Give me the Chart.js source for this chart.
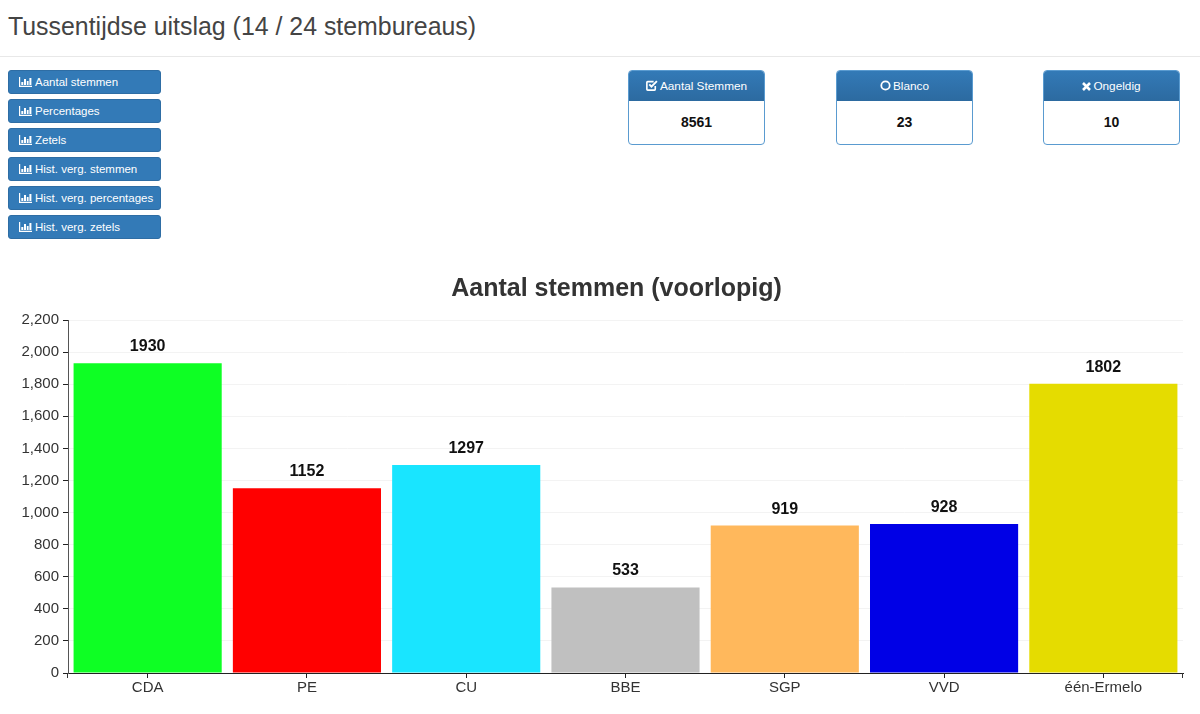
<!DOCTYPE html>
<html>
<head>
<meta charset="utf-8">
<title>Tussentijdse uitslag</title>
<script src="https://cdn.jsdelivr.net/npm/chart.js@4"></script>
<style>
    html, body { margin: 0; padding: 0; background: #fff; font-family: "Liberation Sans", Arial, sans-serif; }
    body { position: relative; width: 1200px; height: 714px; overflow: hidden; }
    h1 { position: absolute; left: 8px; top: 12px; margin: 0; font-size: 24.9px; line-height: 28px; font-weight: normal; color: #444; }
    .rule { position: absolute; left: 0; top: 56px; width: 1200px; height: 1px; background: #e8e8e8; }
    .btn { position: absolute; left: 8px; width: 153px; height: 24px; box-sizing: border-box; padding-left: 10px; background: #337ab7; border: 1px solid #2e6da4; border-radius: 3px; color: #fff; font-size: 11.5px; line-height: 22.5px; white-space: nowrap; }
    .btn svg { vertical-align: -1px; margin-right: 3px; }
    .panel { position: absolute; top: 70px; width: 137px; height: 75px; box-sizing: border-box; border: 1px solid #5a9bd0; border-radius: 4px; text-align: center; overflow: hidden; }
    .panel .head { height: 30px; line-height: 31px; color: #fff; font-size: 11.8px; background: linear-gradient(#337ab7, #2c6aa0); white-space: nowrap; }
    .panel .head svg { vertical-align: -1px; margin-right: 2px; }
    .panel .val { line-height: 42px; font-size: 14px; font-weight: bold; color: #111; }
    #chartBox { position: absolute; left: 0; top: 266px; width: 1200px; height: 448px; }
</style>
</head>
<body>
<h1>Tussentijdse uitslag (14 / 24 stembureaus)</h1>
<div class="rule"></div>
<div id="buttons"></div>
<div id="panels"></div>
<div id="chartBox"><canvas id="voteChart"></canvas></div>

<script>
const categories = ['CDA', 'PE', 'CU', 'BBE', 'SGP', 'VVD', 'één-Ermelo'];
const votes = [1930, 1152, 1297, 533, 919, 928, 1802];
const barColors = ['#0eff24', '#ff0000', '#19e5ff', '#c0c0c0', '#ffb85c', '#0000e6', '#e5dc00'];
const buttonLabels = ['Aantal stemmen', 'Percentages', 'Zetels', 'Hist. verg. stemmen', 'Hist. verg. percentages', 'Hist. verg. zetels'];
const panelLabels = ['Aantal Stemmen', 'Blanco', 'Ongeldig'];
const panelValues = [8561, 23, 10];
const panelLefts = [628, 836, 1043];

const barIcon = '<svg width="13" height="10" viewBox="0 0 13 10"><path fill="#fff" d="M0 0h1.200v8.800H13V10H0zM2.300 5h2v3h-2zM5 2h2v6H5zM7.800 4h1.800v4H7.800zM10.400 1h2v7h-2z"/></svg>';
const panelIcons = [
    '<svg width="12" height="11" viewBox="0 0 11 10"><path fill="none" stroke="#fff" stroke-width="1.500" d="M8.500 5.500V8.500a.7.7 0 0 1-.7.7H1.500a.7.7 0 0 1-.7-.7V2.200a.7.7 0 0 1 .7-.7H7"/><path fill="none" stroke="#fff" stroke-width="1.800" d="M3 4l2 2 5-5"/></svg>',
    '<svg width="11" height="11" viewBox="0 0 11 11"><circle cx="5.500" cy="5.500" r="4.200" fill="none" stroke="#fff" stroke-width="1.800"/></svg>',
    '<svg width="9" height="9" viewBox="0 0 9 9"><path stroke="#fff" stroke-width="2.600" d="M1 1l7 7M8 1l-7 7"/></svg>'
];

document.getElementById('buttons').innerHTML = buttonLabels.map((label, i) =>
    `<div class="btn" style="top:${70 + i * 29}px">${barIcon}${label}</div>`).join('');

document.getElementById('panels').innerHTML = panelLabels.map((label, i) => `
    <div class="panel" style="left:${panelLefts[i]}px">
        <div class="head">${panelIcons[i]}${label}</div>
        <div class="val">${panelValues[i]}</div>
    </div>`).join('');

// Value above each bar, plus the end ticks of the x axis
const barValues = {
    id: 'barValues',
    afterLayout(chart) {
        // y labels get clipped to the scale box, so open it up to the canvas edge
        chart.scales.y.left = 0;
    },
    afterDatasetsDraw(chart) {
        const ctx = chart.ctx;
        ctx.save();
        ctx.font = 'bold 16px "Liberation Sans", Arial, sans-serif';
        ctx.fillStyle = '#111';
        ctx.textAlign = 'center';
        ctx.textBaseline = 'alphabetic';
        chart.getDatasetMeta(0).data.forEach((bar, i) => {
            ctx.fillText(votes[i], bar.x, bar.y - 12);
        });
        const area = chart.chartArea;
        ctx.fillStyle = '#333';
        ctx.fillRect(area.left - 1, area.bottom, 1, 5);
        ctx.fillRect(area.right - 1, area.bottom, 1, 5);
        ctx.restore();
    }
};

new Chart(document.getElementById('voteChart'), {
    type: 'bar',
    data: {
        labels: categories,
        datasets: [{
            data: votes,
            backgroundColor: barColors,
            categoryPercentage: 0.93,
            barPercentage: 1
        }]
    },
    plugins: [barValues],
    options: {
        responsive: true,
        maintainAspectRatio: false,
        animation: false,
        // left padding and the narrow y scale keep the axis at x=68 but push the title's centre right
        layout: { padding: { top: 0, right: 17, bottom: 16, left: 50 } },
        plugins: {
            legend: { display: false },
            tooltip: { enabled: false },
            title: {
                display: true,
                text: 'Aantal stemmen (voorlopig)',
                color: '#333',
                font: { family: '"Liberation Sans", Arial, sans-serif', size: 25, weight: 'bold' },
                padding: { top: 8, bottom: 16 }
            }
        },
        scales: {
            x: {
                border: { color: '#222', width: 1 },
                grid: { offset: false, drawOnChartArea: false, tickColor: '#222', tickLength: 5 },
                ticks: { color: '#333', padding: 1, font: { family: '"Liberation Sans", Arial, sans-serif', size: 15 } }
            },
            y: {
                min: 0,
                max: 2200,
                afterFit(scale) { scale.width = 18; },
                border: { color: '#555', width: 1 },
                grid: { color: '#f3f3f3', tickColor: '#222', tickLength: 5 },
                ticks: { stepSize: 200, color: '#333', padding: 4, font: { family: '"Liberation Sans", Arial, sans-serif', size: 15 } }
            }
        }
    }
});
</script>
</body>
</html>
